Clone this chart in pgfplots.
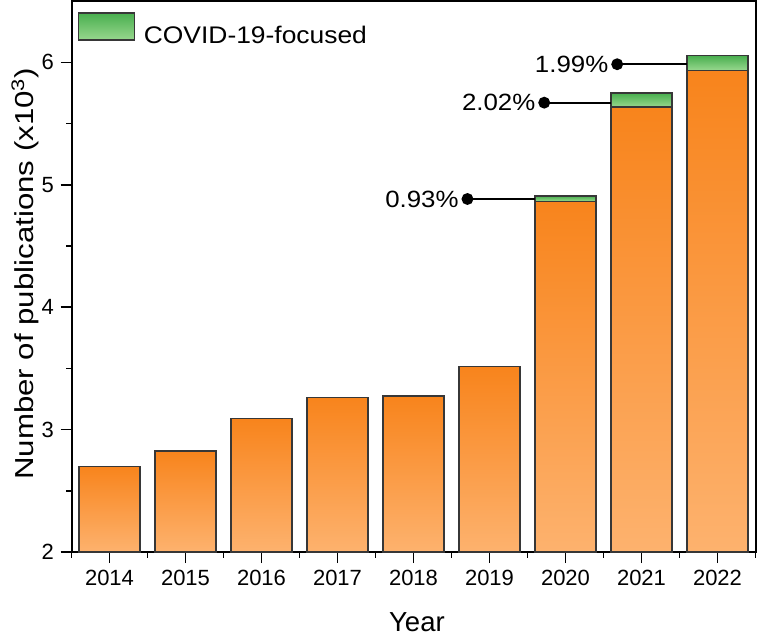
\documentclass[border=0pt]{standalone}
\usepackage{pgfplots}
\pgfplotsset{compat=1.18}
\usepackage{fontspec}
\setmainfont{Liberation Sans}
\definecolor{orTop}{RGB}{248,132,28}
\definecolor{orBot}{RGB}{253,178,110}
\definecolor{grTop}{RGB}{72,174,78}
\definecolor{grBot}{RGB}{152,216,142}
\definecolor{edge}{RGB}{55,55,55}

\pgfplotsset{
  obar/.style={ybar, bar width=0.8, bar shift=0pt, draw=edge, line width=1.4pt,
    top color=orTop, bottom color=orBot, forget plot},
  gseg/.style={draw=edge, line width=1.4pt, top color=grTop, bottom color=grBot,
    mark=none, forget plot},
  note/.style={sharp plot, black, line width=1.8pt, mark=*, mark size=5pt,
    mark indices={1}, forget plot},
}

\begin{document}
\begin{tikzpicture}
\useasboundingbox (0,0) rectangle (757pt,637pt);
\begin{axis}[
  at={(71.5pt,85pt)}, anchor=south west,
  scale only axis, width=684pt, height=550.8pt,
  y coord trafo/.code={\pgfmathparse{#1-2}},
  y coord inv trafo/.code={\pgfmathparse{#1+2}},
  xmin=-0.5, xmax=8.5, ymin=2, ymax=6.5,
  xtick={0,...,8},
  xticklabels={2014,2015,2016,2017,2018,2019,2020,2021,2022},
  minor xtick={-0.5,0.5,...,8.5},
  ytick={2,3,4,5,6}, yticklabels={2,3,4,5,6},
  minor ytick={2.5,3.5,4.5,5.5},
  tick pos=left, tick align=outside,
  major tick length=11pt, minor tick length=5.5pt,
  every tick/.style={black, line width=1.6pt},
  axis line style={line width=2pt},
  tick label style={font=\fontsize{22}{24}\selectfont},
  x tick label style={yshift=-4pt},
  y tick label style={xshift=-3pt},
  /pgf/number format/assume math mode=true,
  xlabel={Year},
  ylabel={\scalebox{1.2}[1]{Number of publications (x10\textsuperscript{3})}},
  x label style={font=\fontsize{27.5}{30}\selectfont, at={(axis description cs:0.505,-0.127)}, anchor=center},
  y label style={font=\fontsize{26}{30}\selectfont, at={(axis description cs:-0.068,0.505)}, anchor=center},
  legend style={at={(axis description cs:0,1)}, anchor=north west,
    xshift=5.8pt, yshift=-10.8pt, draw=none, fill=none, inner sep=0pt,
    font=\fontsize{24}{28}\selectfont, column sep=9pt, nodes={inner sep=0pt}},
]
\addlegendimage{legend image code/.code={\draw[draw=edge, line width=1.4pt, top color=grTop, bottom color=grBot] (0pt,-4.5pt) rectangle (56pt,22.5pt);}}
\addlegendentry{\scalebox{1.1}[1]{COVID-19-focused}}

% all publications excluding COVID-19-focused (x10^3)
\addplot[obar] coordinates {(0,2.700)};
\addplot[obar] coordinates {(1,2.825)};
\addplot[obar] coordinates {(2,3.090)};
\addplot[obar] coordinates {(3,3.264)};
\addplot[obar] coordinates {(4,3.274)};
\addplot[obar] coordinates {(5,3.517)};
\addplot[obar] coordinates {(6,4.865)};
\addplot[obar] coordinates {(7,5.635)};
\addplot[obar] coordinates {(8,5.935)};

% COVID-19-focused segments (from other-publications top to total)
\addplot[gseg] coordinates {(5.6,4.865) (5.6,4.910) (6.4,4.910) (6.4,4.865)} --cycle;
\addplot[gseg] coordinates {(6.6,5.635) (6.6,5.750) (7.4,5.750) (7.4,5.635)} --cycle;
\addplot[gseg] coordinates {(7.6,5.935) (7.6,6.056) (8.4,6.056) (8.4,5.935)} --cycle;

% share annotations
\addplot[note] coordinates {(4.71,4.884) (5.6,4.884)}
  node[pos=0, anchor=east, xshift=-8pt, inner sep=0pt, font=\fontsize{23.5}{28}\selectfont] {\scalebox{1.1}[1]{0.93\%}};
\addplot[note] coordinates {(5.72,5.671) (6.6,5.671)}
  node[pos=0, anchor=east, xshift=-8pt, inner sep=0pt, font=\fontsize{23.5}{28}\selectfont] {\scalebox{1.1}[1]{2.02\%}};
\addplot[note] coordinates {(6.68,5.985) (7.6,5.985)}
  node[pos=0, anchor=east, xshift=-8pt, inner sep=0pt, font=\fontsize{23.5}{28}\selectfont] {\scalebox{1.1}[1]{1.99\%}};
\end{axis}
\end{tikzpicture}
\end{document}
